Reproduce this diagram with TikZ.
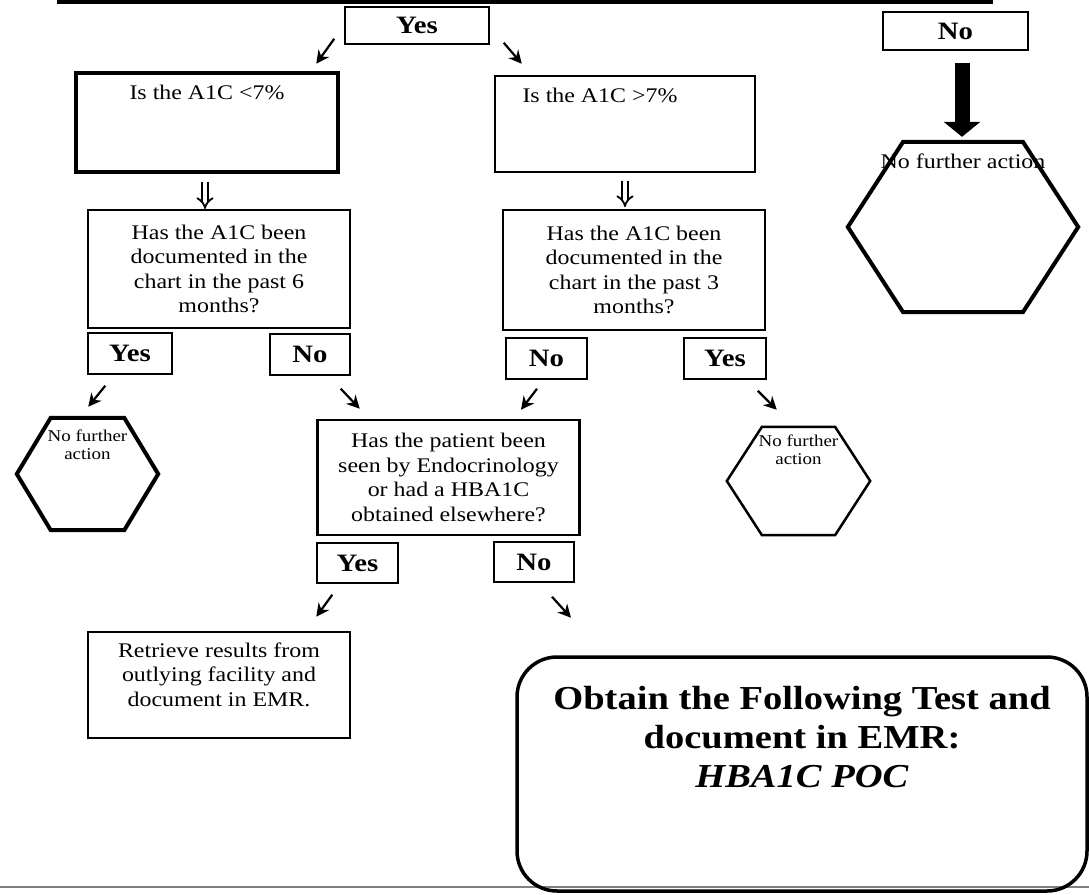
\documentclass[tikz,border=0pt]{standalone}
\usepackage{fontspec}
\setmainfont[FakeStretch=1.15]{Liberation Serif}
\usetikzlibrary{arrows.meta,calc}
\newcommand{\bodyf}{\fontsize{20.8}{24.5}\selectfont}
\newcommand{\labf}{\fontsize{25}{28}\selectfont\bfseries}
\newcommand{\hexf}{\fontsize{16.5}{18}\selectfont}
\newcommand{\bigf}{\fontsize{33.5}{39}\selectfont\bfseries}
\newcommand{\topbox}[5]{\parbox[c][#2][t]{#1}{#4\vspace*{#3}\centering\strut #5}}
\begin{document}
\begin{tikzpicture}[x=1pt,y=-1pt,
  lbl/.style={draw, line width=1.5pt, inner sep=0pt, font=\labf},
  box/.style={draw, line width=2.2pt, inner sep=0pt, align=center, font=\bodyf},
  hexbox/.style={inner sep=0pt},
  arr/.style={line width=2.2pt, -{Stealth[length=13pt,width=13pt]}},
  hollow/.style={double, double distance=4pt, line width=1.8pt, -{Implies}},
  hexline/.style={line width=4pt, line join=miter}]
\useasboundingbox (0,0) rectangle (1089,894);
\fill[white] (0,0) rectangle (1089,894);

% top rule and bottom rule
\coordinate (tl) at (57,2);
\coordinate (tr) at (993,2);
\draw[line width=4pt] (tl) -- (tr);
\coordinate (bl) at (0,887);
\coordinate (br) at (1089,887);
\draw[gray, line width=1.5pt] (bl) -- (br);

% label boxes
\node[lbl, minimum width=144pt, minimum height=37pt] (yesT) at (417,25.5) {Yes};
\node[lbl, minimum width=145pt, minimum height=38pt] (noT) at (955.5,31) {No};
\node[lbl, minimum width=84pt, minimum height=41pt] (cyes) at (130,353.5) {Yes};
\node[lbl, minimum width=80pt, minimum height=41pt] (cno) at (310,354.5) {No};
\node[lbl, minimum width=81pt, minimum height=41pt] (dno) at (546.5,358.5) {No};
\node[lbl, minimum width=82pt, minimum height=41pt] (dyes) at (725,358.5) {Yes};
\node[lbl, minimum width=81pt, minimum height=40pt] (eyes) at (357.5,563) {Yes};
\node[lbl, minimum width=80pt, minimum height=40pt] (eno) at (534,562) {No};

% question boxes
\node[box, line width=4pt] (A) at (207,122.5) {\topbox{262pt}{99pt}{9pt}{\bodyf}{Is the A1C <7\%}};
\node[box] (B) at (625,124) {\topbox{260pt}{96pt}{9pt}{\bodyf}{Is the A1C >7\%\hspace*{50pt}}};
\node[box, minimum width=262pt, minimum height=118pt] (C) at (219,269) {Has the A1C been\\documented in the\\chart in the past 6\\months?};
\node[box, minimum width=262pt, minimum height=120pt] (D) at (634,270) {Has the A1C been\\documented in the\\chart in the past 3\\months?};
\node[box, line width=2.5pt, minimum width=262pt, minimum height=115pt] (E) at (448.5,477.5) {Has the patient been\\seen by Endocrinology\\or had a HBA1C\\obtained elsewhere?};
\node[box, line width=2pt] (F) at (219,685) {\topbox{262pt}{106pt}{8pt}{\bodyf}{Retrieve results from\\outlying facility and\\document in EMR.}};
\node[box, line width=3.5pt, rounded corners=40pt] (G) at (802,774) {\topbox{570pt}{234pt}{25pt}{\bigf}{Obtain the Following Test and\\document in EMR:\\\textit{HBA1C POC}}};

% hexagons
\node[hexbox] (hexR) at (963,227) {\topbox{230pt}{170pt}{9pt}{\bodyf}{No further action}};
\node[hexbox] (hexL) at (87.5,474) {\topbox{141pt}{112pt}{11pt}{\hexf}{No further\\action}};
\node[hexbox] (hexM) at (798.5,481) {\topbox{143pt}{108pt}{6.5pt}{\hexf}{No further\\action}};
\draw[hexline] (hexR.west) -- ($(hexR.north west)!0.24!(hexR.north east)$) -- ($(hexR.north west)!0.76!(hexR.north east)$) -- (hexR.east) -- ($(hexR.south west)!0.76!(hexR.south east)$) -- ($(hexR.south west)!0.24!(hexR.south east)$) -- cycle;
\draw[hexline] (hexL.west) -- ($(hexL.north west)!0.24!(hexL.north east)$) -- ($(hexL.north west)!0.76!(hexL.north east)$) -- (hexL.east) -- ($(hexL.south west)!0.76!(hexL.south east)$) -- ($(hexL.south west)!0.24!(hexL.south east)$) -- cycle;
\draw[hexline, line width=2.5pt] (hexM.west) -- ($(hexM.north west)!0.245!(hexM.north east)$) -- ($(hexM.north west)!0.755!(hexM.north east)$) -- (hexM.east) -- ($(hexM.south west)!0.755!(hexM.south east)$) -- ($(hexM.south west)!0.245!(hexM.south east)$) -- cycle;

% thick arrow
\draw[line width=15pt, -{Triangle[length=15pt,width=36pt]}] ($(noT.south)+(6.5,12)$) -- ($(hexR.north)+(-1,-5)$);

% hollow arrows
\draw[hollow] ($(A.south)+(-2,8)$) -- ($(A.south)+(-2,35)$);
\draw[hollow] ($(B.south)+(0,8)$) -- ($(B.south)+(0,34)$);

% small arrows
\draw[arr] ($(yesT.south west)+(-10,-6)$) -- ($(yesT.south west)+(-28,19)$);
\draw[arr] ($(yesT.south east)+(14,-2)$) -- ($(yesT.south east)+(32,19)$);
\draw[arr] ($(cyes.south west)+(18,11)$) -- ($(cyes.south west)+(1,32)$);
\draw[arr] ($(cno.south east)+(-10,13)$) -- ($(cno.south east)+(9,33)$);
\draw[arr] ($(dno.south)+(-9.5,9)$) -- ($(dno.south)+(-25.5,30)$);
\draw[arr] ($(dyes.south east)+(-9,11)$) -- ($(dyes.south east)+(10,30)$);
\draw[arr] ($(eyes.south west)+(16,11)$) -- ($(eyes.south west)+(0,33)$);
\draw[arr] ($(eno.south)+(18,14)$) -- ($(eno.south)+(37,35)$);
\end{tikzpicture}
\end{document}
